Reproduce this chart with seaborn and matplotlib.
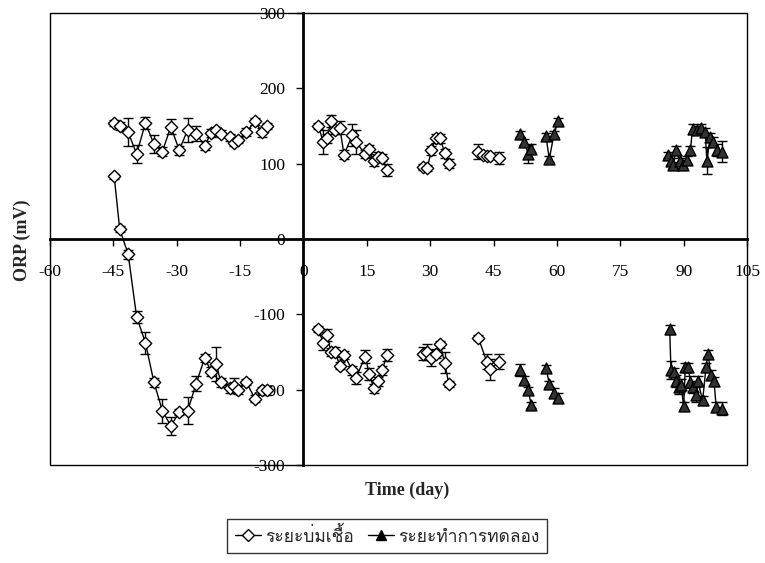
import numpy as np
import pandas as pd
import matplotlib
matplotlib.use("Agg")
import matplotlib.pyplot as plt
from matplotlib import font_manager
from matplotlib.ft2font import FT2Font
from matplotlib.lines import Line2D
from matplotlib.patches import Rectangle
import seaborn as sns

# ---------------- data ----------------
phases = ["ระยะบ่มเชื้อ", "ระยะทำการทดลอง"]

# incubation, before day 0
inc_pre_days = [-44.8, -43.5, -41.5, -39.5, -37.4, -35.4, -33.4, -31.4, -29.4, -27.4, -25.4,
                -23.4, -21.8, -20.6, -19.6, -17.5, -16.5, -15.4, -13.5, -11.5, -9.8, -8.6]
inc_pre_hi = [154, 150, 142, 113, 154, 126, 116, 149, 118, 145, 140,
              124, 141, 145, 140, 135, 128, 132, 142, 156, 142, 150]
inc_pre_hi_err = [4, 5, 18, 12, 8, 12, 6, 10, 6, 16, 10, 6, 5, 4, 5, 5, 5, 4, 5, 5, 6, 4]
inc_pre_lo = [83, 13, -20, -103, -138, -190, -228, -248, -230, -228, -192,
              -158, -176, -166, -190, -198, -195, -200, -190, -212, -201, -201]
inc_pre_lo_err = [3, 4, 6, 8, 14, 6, 16, 12, 4, 18, 10, 5, 6, 22, 6, 6, 10, 6, 4, 5, 4, 6]

# incubation, after day 0 (three sampling runs)
inc_a_days = [3.5, 4.7, 5.6, 6.5, 7.5, 8.6, 9.6, 11.6, 12.4, 14.6, 15.6, 16.6, 17.6, 18.7, 19.7]
inc_a_hi = [150, 129, 134, 157, 145, 148, 112, 138, 129, 113, 119, 103, 109, 108, 92]
inc_a_hi_err = [4, 16, 6, 8, 5, 8, 6, 14, 16, 5, 6, 6, 6, 5, 8]
inc_a_lo = [-120, -138, -127, -150, -150, -168, -154, -174, -185, -156, -179, -198, -189, -174, -154]
inc_a_lo_err = [4, 10, 8, 5, 6, 5, 5, 6, 8, 8, 8, 6, 6, 6, 8]

inc_b_days = [28.4, 29.3, 30.3, 31.3, 32.4, 33.4, 34.4]
inc_b_hi = [96, 94, 118, 134, 134, 114, 100]
inc_b_hi_err = [4, 4, 6, 6, 6, 6, 6]
inc_b_lo = [-152, -150, -158, -152, -140, -164, -192]
inc_b_lo_err = [8, 10, 10, 6, 5, 14, 4]

inc_c_hi_days = [41.4, 42.5, 43.4, 44.2, 46.4]
inc_c_hi = [116, 112, 110, 110, 108]
inc_c_hi_err = [10, 5, 5, 4, 8]
inc_c_lo_days = [41.4, 43.4, 44.2, 46.4]
inc_c_lo = [-131, -163, -173, -163]
inc_c_lo_err = [3, 10, 14, 10]

# experiment runs
exp_a_days = [51.3, 52.3, 53.2, 53.9]
exp_a_hi = [140, 129, 113, 120]
exp_a_hi_err = [4, 4, 12, 6]
exp_a_lo = [-174, -187, -200, -220]
exp_a_lo_err = [8, 5, 4, 4]

exp_b_days = [57.4, 58.2, 59.3, 60.3]
exp_b_hi = [137, 106, 139, 156]
exp_b_hi_err = [4, 4, 4, 4]
exp_b_lo = [-171, -192, -204, -211]
exp_b_lo_err = [4, 4, 6, 6]

exp_c_hi_days = [86.3, 87.1, 87.5, 88.1, 89.1, 89.9, 90.7, 91.6, 92.1, 93.2, 94.2,
                  95.1, 95.5, 96.3, 97.0, 98.0, 99.0]
exp_c_hi = [111, 103, 98, 118, 103, 98, 105, 118, 146, 145, 148, 142, 104, 136, 129, 118, 116]
exp_c_hi_err = [4, 5, 4, 6, 5, 5, 5, 6, 6, 5, 5, 5, 18, 5, 6, 8, 14]
exp_c_lo_days = [86.7, 87.0, 87.7, 88.1, 88.9, 89.4, 90.0, 90.4, 91.1, 91.6, 92.2, 93.0,
                  93.3, 94.5, 95.3, 95.8, 96.4, 97.2, 97.7, 99.0]
exp_c_lo = [-120, -174, -176, -189, -196, -194, -222, -170, -170, -190, -196, -207,
            -188, -214, -170, -152, -180, -189, -223, -225]
exp_c_lo_err = [6, 12, 5, 8, 10, 8, 5, 5, 5, 8, 8, 10, 6, 6, 6, 5, 6, 6, 6, 8]

x_ticks = list(range(-60, 106, 15))
y_ticks = list(range(-300, 301, 100))

# ---------------- assemble long table ----------------
traces = [
    (phases[0], inc_pre_days, inc_pre_hi, inc_pre_hi_err),
    (phases[0], inc_pre_days, inc_pre_lo, inc_pre_lo_err),
    (phases[0], inc_a_days, inc_a_hi, inc_a_hi_err),
    (phases[0], inc_a_days, inc_a_lo, inc_a_lo_err),
    (phases[0], inc_b_days, inc_b_hi, inc_b_hi_err),
    (phases[0], inc_b_days, inc_b_lo, inc_b_lo_err),
    (phases[0], inc_c_hi_days, inc_c_hi, inc_c_hi_err),
    (phases[0], inc_c_lo_days, inc_c_lo, inc_c_lo_err),
    (phases[1], exp_a_days, exp_a_hi, exp_a_hi_err),
    (phases[1], exp_a_days, exp_a_lo, exp_a_lo_err),
    (phases[1], exp_b_days, exp_b_hi, exp_b_hi_err),
    (phases[1], exp_b_days, exp_b_lo, exp_b_lo_err),
    (phases[1], exp_c_hi_days, exp_c_hi, exp_c_hi_err),
    (phases[1], exp_c_lo_days, exp_c_lo, exp_c_lo_err),
]
frames = []
for i, (ph, d, v, e) in enumerate(traces):
    frames.append(pd.DataFrame({"day": d, "orp": v, "err": e, "phase": ph, "trace": i}))
df = pd.concat(frames, ignore_index=True)


# ---------------- fonts ----------------
def find_family(codepoint, fallback):
    for f in font_manager.fontManager.ttflist:
        try:
            if codepoint in FT2Font(f.fname).get_charmap():
                return f.name
        except Exception:
            continue
    return fallback


sns.set_theme(style="white")
thai_family = find_family(0x0E23, "DejaVu Sans")
serif = "Liberation Serif"
plt.rcParams["font.family"] = [serif, "DejaVu Sans"]

# ---------------- figure ----------------
fig = plt.figure(figsize=(7.65, 5.63), dpi=100)
ax = fig.add_axes([50 / 765, 1 - 465 / 563, 697 / 765, 452 / 563])
ax.set_facecolor("white")

sns.lineplot(data=df, x="day", y="orp", units="trace", estimator=None, sort=False,
             color="black", linewidth=1.0, legend=False, ax=ax, zorder=3)
ax.errorbar(df["day"], df["orp"], yerr=df["err"], fmt="none", ecolor="black",
            elinewidth=1.0, capsize=3.5, capthick=1.0, zorder=3)

styles = {phases[0]: dict(marker="D", s=40, facecolor="white"),
          phases[1]: dict(marker="^", s=62, facecolor="#333333")}
for ph in phases:
    sub = df[df["phase"] == ph]
    st = styles[ph]
    sns.scatterplot(x=sub["day"], y=sub["orp"], marker=st["marker"], s=st["s"],
                    color=st["facecolor"], edgecolor="black", linewidth=1.0,
                    legend=False, ax=ax, zorder=4)

ax.set_xlim(-60, 105)
ax.set_ylim(-300, 300)
ax.set_xticks(x_ticks)
ax.set_yticks(y_ticks)
ax.set_xticklabels([str(t) for t in x_ticks])
ax.set_yticklabels([str(t) for t in y_ticks])

# axes crossing at the origin
for side in ("left", "bottom"):
    ax.spines[side].set_position(("data", 0))
    ax.spines[side].set_linewidth(2.0)
    ax.spines[side].set_color("black")
    ax.spines[side].set_zorder(2.6)
for side in ("top", "right"):
    ax.spines[side].set_visible(False)
ax.add_patch(Rectangle((0, 0), 1, 1, transform=ax.transAxes, fill=False,
                       edgecolor="black", linewidth=1.0, clip_on=False, zorder=2.5))

ax.tick_params(axis="x", direction="out", length=5, width=1, pad=13,
               labelsize=12.5, colors="black", bottom=True)
ax.tick_params(axis="y", direction="out", length=5, width=1, pad=8,
               labelsize=12.5, colors="black", left=True)
for lab in ax.get_xticklabels() + ax.get_yticklabels():
    lab.set_fontfamily(serif)
ax.set_xlabel("")
ax.set_ylabel("")

fig.text(407 / 765, 1 - 490 / 563, "Time (day)", ha="center", va="center",
         fontsize=13, fontweight="bold", family=serif)
fig.text(22 / 765, 1 - 240 / 563, "ORP (mV)", ha="center", va="center", rotation=90,
         fontsize=13, fontweight="bold", family=serif)

handles = [
    Line2D([], [], color="black", lw=1.0, marker="D", markersize=6,
           markerfacecolor="white", markeredgecolor="black"),
    Line2D([], [], color="black", lw=1.0, marker="^", markersize=7,
           markerfacecolor="black", markeredgecolor="black"),
]
leg = fig.legend(handles, phases, loc="center", bbox_to_anchor=(387 / 765, 1 - 536 / 563),
                 ncol=2, frameon=True, fancybox=False, edgecolor="black",
                 handlelength=1.5, handletextpad=0.25, columnspacing=0.8,
                 borderpad=0.45, prop={"family": [thai_family, "DejaVu Sans"], "size": 12.5})
leg.get_frame().set_linewidth(1.0)

fig.savefig("out.png", dpi=100, facecolor="white")
